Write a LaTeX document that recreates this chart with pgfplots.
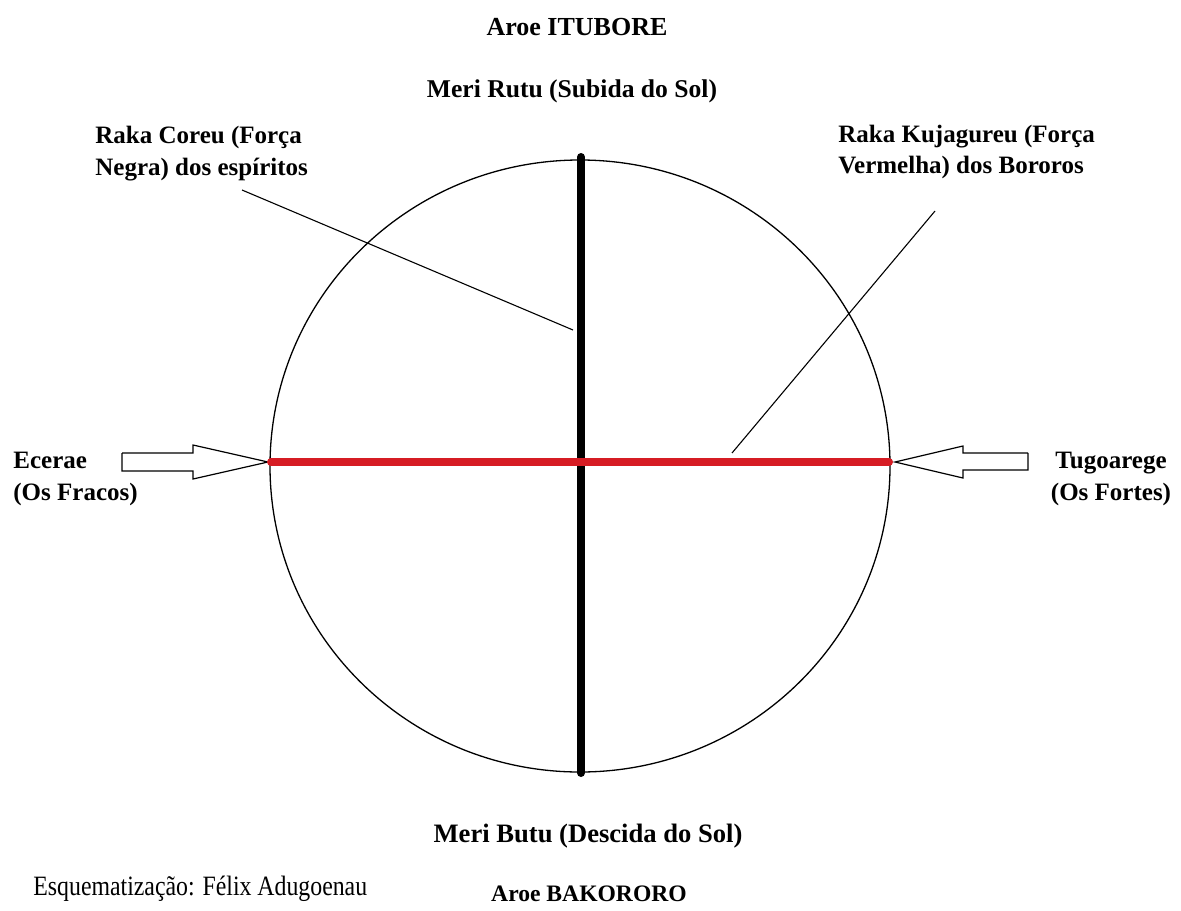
\documentclass[border=0pt]{standalone}
\usepackage{pgfplots}
\pgfplotsset{compat=1.18}
\usepackage{fontspec}
\setmainfont{Liberation Serif}
\newfontfamily\condserif[FakeStretch=0.85]{Liberation Serif}
\definecolor{lred}{RGB}{214,28,36}
\begin{document}
\begin{tikzpicture}
\begin{axis}[
 scale only axis, width=590.5pt, height=455pt,
 xmin=0, xmax=1181, ymin=0, ymax=910, y dir=reverse,
 axis lines=none, xtick=\empty, ytick=\empty, clip=false,
]
\path[fill=white] (rel axis cs:0,0) rectangle (rel axis cs:1,1);
% circle
\draw[line width=0.65pt] (axis cs:580,466) ellipse [x radius=155pt, y radius=153pt];
% leader lines
\addplot[black, line width=0.55pt, no markers] coordinates {(242,190) (573,330)};
\addplot[black, line width=0.55pt, no markers] coordinates {(935,211) (732,453)};
% arrows
\addplot[draw=black, fill=white, line width=0.6pt, no markers] coordinates {(122,453) (193,453) (193,445) (268,462) (193,479) (193,471) (122,471) (122,453)};
\addplot[draw=black, fill=white, line width=0.6pt, no markers] coordinates {(1028,453) (963,453) (963,446) (895,462) (963,478) (963,470) (1028,470) (1028,453)};
% axes lines
\addplot[black, line width=4pt, line cap=round, no markers] coordinates {(581,157) (581,773)};
\addplot[lred, line width=4pt, line cap=round, no markers] coordinates {(271,462) (889,462)};
% texts
\node[anchor=base, font=\bfseries\fontsize{13}{15}\selectfont] at (axis cs:577,35) {Aroe ITUBORE};
\node[anchor=base, font=\bfseries\fontsize{12.8}{15}\selectfont] at (axis cs:572,97) {Meri Rutu (Subida do Sol)};
\node[anchor=base west, inner sep=0pt, font=\bfseries\fontsize{12.5}{15}\selectfont] at (axis cs:95,143) {Raka Coreu (Força};
\node[anchor=base west, inner sep=0pt, font=\bfseries\fontsize{12.5}{15}\selectfont] at (axis cs:95,175) {Negra) dos espíritos};
\node[anchor=base west, inner sep=0pt, font=\bfseries\fontsize{12.5}{15}\selectfont] at (axis cs:838,142) {Raka Kujagureu (Força};
\node[anchor=base west, inner sep=0pt, font=\bfseries\fontsize{12.5}{15}\selectfont] at (axis cs:838,173) {Vermelha) dos Bororos};
\node[anchor=base west, inner sep=0pt, font=\bfseries\fontsize{12.5}{15}\selectfont] at (axis cs:13,468) {Ecerae};
\node[anchor=base west, inner sep=0pt, font=\bfseries\fontsize{12.5}{15}\selectfont] at (axis cs:13,500) {(Os Fracos)};
\node[anchor=base, inner sep=0pt, font=\bfseries\fontsize{12.5}{15}\selectfont] at (axis cs:1111,468) {Tugoarege};
\node[anchor=base, inner sep=0pt, font=\bfseries\fontsize{12.5}{15}\selectfont] at (axis cs:1111,500) {(Os Fortes)};
\node[anchor=base, inner sep=0pt, font=\bfseries\fontsize{13.3}{15}\selectfont] at (axis cs:588,842) {Meri Butu (Descida do Sol)};
\node[anchor=base, inner sep=0pt, font=\bfseries\fontsize{11.8}{15}\selectfont] at (axis cs:589,901) {Aroe BAKORORO};
\node[anchor=base west, inner sep=0pt, font=\condserif\fontsize{14}{16}\selectfont] at (axis cs:33,895) {Esquematização: Félix Adugoenau};
\end{axis}
\end{tikzpicture}
\end{document}
